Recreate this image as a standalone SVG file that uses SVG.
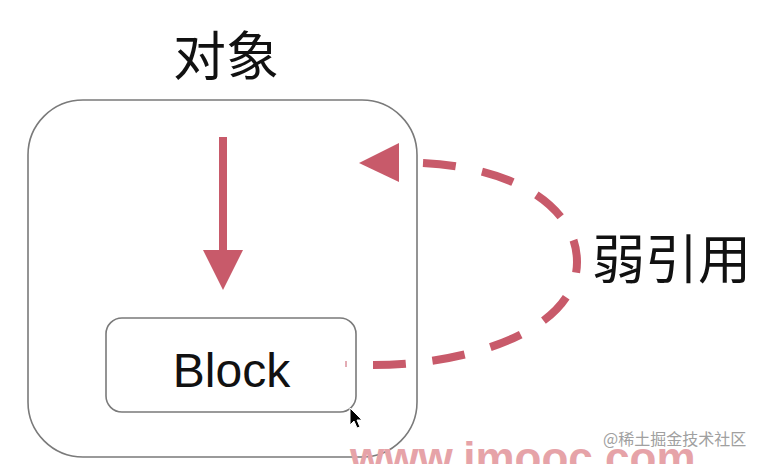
<svg xmlns="http://www.w3.org/2000/svg" width="760" height="464" viewBox="0 0 760 464">
  <style>
    .box { fill: #ffffff; stroke: #7a7a7a; stroke-width: 1.6; }
    .cjk { font-family: "Noto Sans CJK SC", "Noto Sans", sans-serif; fill: #111111; }
    .lat { font-family: "Liberation Sans", Arial, sans-serif; fill: #111111; }
    .red { fill: #c85a6a; }
    .dash { fill: none; stroke: #c85a6a; stroke-width: 8; stroke-dasharray: 32 26; }
  </style>
  <rect width="760" height="464" fill="#ffffff"/>

  <g id="object">
    <text class="cjk" x="226" y="76" font-size="53" text-anchor="middle">对象</text>
    <rect class="box" x="28" y="100" width="389" height="357" rx="55" ry="55"/>
  </g>

  <g id="block">
    <rect class="box" x="106" y="318" width="250" height="94" rx="16" ry="16"/>
    <text class="lat" x="231.5" y="387" font-size="48" text-anchor="middle">Block</text>
  </g>

  <g id="connectors">
    <rect class="red" x="219" y="137" width="8" height="115"/>
    <polygon class="red" points="203,250 243,250 223,290"/>
    <path class="dash" pathLength="438" d="M373,365 C470,365 577,330 577,262 C577,210 520,168 423,163"/>
    <polygon class="red" points="359,163 399,143 399,182"/>
    <text class="cjk" x="592" y="279" font-size="53">弱引用</text>
  </g>

  <line x1="346" y1="361" x2="346" y2="367" stroke="#c85a6a" stroke-width="1"/>
  <polygon points="350,408 350,425 354,421 357,428 360,427 357,420 362,420" fill="#000000" stroke="#ffffff" stroke-width="1"/>

  <text x="350" y="473" font-family="Liberation Sans, Arial, sans-serif" font-weight="bold" font-size="44" fill="#e6a3a8">www.imooc.com</text>
  <text x="603" y="445" font-family="Noto Sans CJK SC, Noto Sans, sans-serif" font-size="16" fill="#a0a0a0">@稀土掘金技术社区</text>
</svg>
